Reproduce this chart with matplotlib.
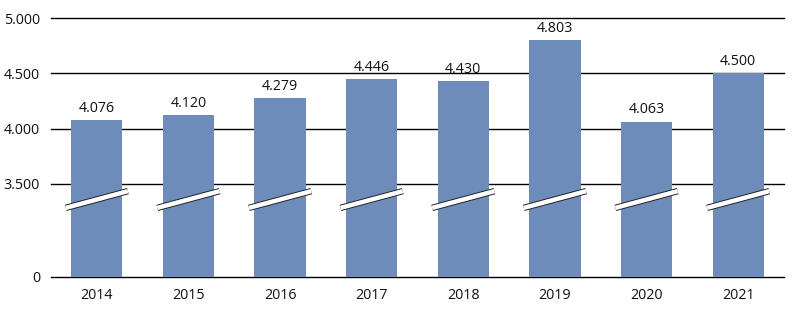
import matplotlib
matplotlib.use("Agg")
import matplotlib.pyplot as plt
import numpy as np

years = ["2014", "2015", "2016", "2017", "2018", "2019", "2020", "2021"]
values = [4076, 4120, 4279, 4446, 4430, 4803, 4063, 4500]
ytick_vals = [0, 3500, 4000, 4500, 5000]
ytick_labels = ["0", "3.500", "4.000", "4.500", "5.000"]

BREAK = 3500.0
LOWSPAN = 841.0  # compressed height of the 0..3500 span


def fwd(v):
    v = np.asarray(v, dtype=float)
    return np.where(v < BREAK, v * LOWSPAN / BREAK, LOWSPAN + (v - BREAK))


def inv(t):
    t = np.asarray(t, dtype=float)
    return np.where(t < LOWSPAN, t * BREAK / LOWSPAN, BREAK + (t - LOWSPAN))


plt.rcParams['font.family'] = ['Open Sans', 'DejaVu Sans']
fig = plt.figure(figsize=(7.96, 3.23), dpi=100)
ax = fig.add_axes([51 / 796, 1 - 277 / 323, (784 - 51) / 796, (277 - 18) / 323])
ax.set_yscale('function', functions=(fwd, inv))
ax.set_ylim(0, 5000)
x = np.arange(len(years))
ax.set_xlim(-0.5, len(years) - 0.5)

for yv in ytick_vals:
    ax.axhline(yv, color='black', lw=1.0, zorder=1, clip_on=False)

color = '#6D8CB9'
ax.bar(x, values, width=0.56, color=color, zorder=2)

for xi, v in zip(x, values):
    lab = f"{v:,}".replace(",", ".")
    ax.annotate(lab, (xi, v), xytext=(0, 3), textcoords='offset points',
                ha='center', va='bottom', fontsize=10.3, color='#111111', zorder=4)

# break marks
for xi in x:
    xs = [xi - 0.34, xi + 0.34]
    ys = [2600, 3230]
    ax.plot(xs, ys, color='#222222', lw=4.6, solid_capstyle='butt', zorder=3)
    ax.plot(xs, ys, color='white', lw=3.2, solid_capstyle='butt', zorder=3.1)

ax.set_yticks(ytick_vals)
ax.set_yticklabels(ytick_labels)
ax.set_xticks(x)
ax.set_xticklabels(years)
ax.yaxis.set_minor_locator(matplotlib.ticker.NullLocator())
ax.tick_params(axis='both', length=0, labelsize=10.3, colors='#111111')
ax.tick_params(axis='y', pad=8)
ax.tick_params(axis='x', pad=8)
for s in ax.spines.values():
    s.set_visible(False)

fig.savefig("out.png", dpi=100)
